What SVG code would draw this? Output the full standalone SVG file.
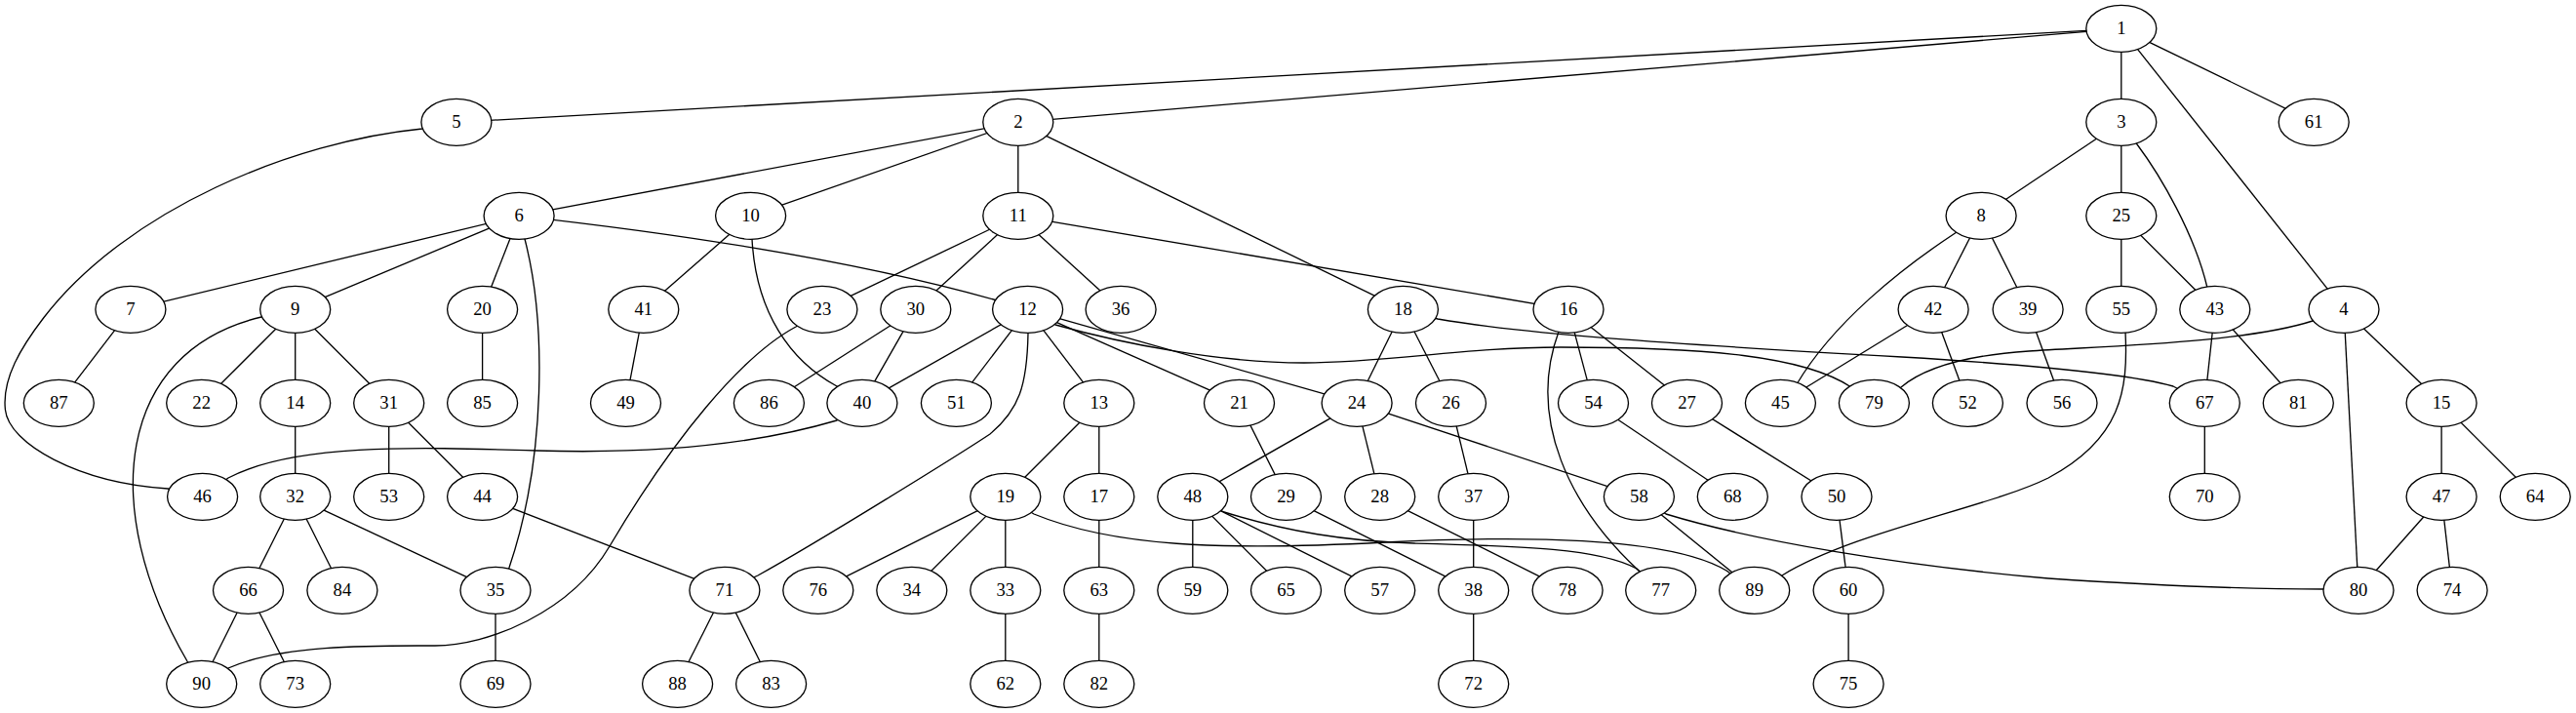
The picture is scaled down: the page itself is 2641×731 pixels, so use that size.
<svg xmlns="http://www.w3.org/2000/svg" width="2641" height="731" viewBox="0 0 2641 731">
<style>
.e path{fill:none;stroke:#000;stroke-width:1.33}
.n ellipse{fill:#fff;stroke:#000;stroke-width:1.33}
.n text{font-family:"Liberation Serif","Times New Roman",serif;font-size:18.67px;text-anchor:middle;fill:#000}
</style>
<rect width="2641" height="731" fill="#fff"/>
<g id="connectors" class="e">
<path d="M2174.8,29.3 L467.9,125.3"/>
<path d="M2174.8,29.3 L1043.8,125.3"/>
<path d="M2174.8,29.3 L2174.8,125.3"/>
<path d="M2174.8,29.3 L2403,317.3"/>
<path d="M2174.8,29.3 L2372.2,125.3"/>
<path d="M1043.8,125.3 L532.1,221.3"/>
<path d="M1043.8,125.3 L769.6,221.3"/>
<path d="M1043.8,125.3 L1043.8,221.3"/>
<path d="M1043.8,125.3 L1438.4,317.3"/>
<path d="M2174.8,125.3 L2031.1,221.3"/>
<path d="M2174.8,125.3 L2174.8,221.3"/>
<path d="M2174.8,125.3 L2191,148 C2215,180 2250,240 2263,295 L2270.8,317.3"/>
<path d="M2403,317.3 L2371,329 C2300,352 2150,355 2080,360 C2020,364 1975,375 1949,397 L1921.4,413.3"/>
<path d="M2403,317.3 L2418,605.3"/>
<path d="M2403,317.3 L2503.1,413.3"/>
<path d="M467.9,125.3 L433,132 C300,145 130,215 44.6,326 C21.6,356 2,388 5.4,420 C9,455 80,495 172,501 L207.6,509.3"/>
<path d="M532.1,221.3 L133.9,317.3"/>
<path d="M532.1,221.3 L302.7,317.3"/>
<path d="M532.1,221.3 L494.6,317.3"/>
<path d="M532.1,221.3 C700,240 900,270 1053.6,317.3"/>
<path d="M532.1,221.3 L538,245 C560,330 560,470 522,582 L508,605.3"/>
<path d="M133.9,317.3 L60.3,413.3"/>
<path d="M2031.1,221.3 L2003,240 C1950,275 1880,330 1842,394 L1825.4,413.3"/>
<path d="M2031.1,221.3 L1982.1,317.3"/>
<path d="M2031.1,221.3 L2079.1,317.3"/>
<path d="M302.7,317.3 L268,325 C120,360 100,520 192,678 L206.7,701.3"/>
<path d="M302.7,317.3 L206.7,413.3"/>
<path d="M302.7,317.3 L302.7,413.3"/>
<path d="M302.7,317.3 L398.7,413.3"/>
<path d="M769.6,221.3 L659.8,317.3"/>
<path d="M769.6,221.3 L771,245 C775,320 810,370 858,396 L883.9,413.3"/>
<path d="M1043.8,221.3 L842.9,317.3"/>
<path d="M1043.8,221.3 L938.8,317.3"/>
<path d="M1043.8,221.3 L1149.1,317.3"/>
<path d="M1043.8,221.3 L1608,317.3"/>
<path d="M1053.6,317.3 L883.9,413.3"/>
<path d="M1053.6,317.3 L980.4,413.3"/>
<path d="M1053.6,317.3 L1126.8,413.3"/>
<path d="M1053.6,317.3 L1270.5,413.3"/>
<path d="M1053.6,317.3 L1391.1,413.3"/>
<path d="M1053.6,317.3 L1082,333 C1150,352 1250,372 1337,372 C1424,372 1500,356 1600,356 C1750,356 1850,365 1898,397 L1921.4,413.3"/>
<path d="M1053.6,317.3 L1054,342 C1053,395 1045,420 1015,445 C985,465 840,555 777,590 L742.9,605.3"/>
<path d="M1126.8,413.3 L1030.8,509.3"/>
<path d="M1126.8,413.3 L1126.8,509.3"/>
<path d="M302.7,413.3 L302.7,509.3"/>
<path d="M2503.1,413.3 L2503.1,509.3"/>
<path d="M2503.1,413.3 L2599.2,509.3"/>
<path d="M1608,317.3 L1633.5,413.3"/>
<path d="M1608,317.3 L1729.5,413.3"/>
<path d="M1608,317.3 L1598,340 C1565,430 1610,520 1680,585 L1702.7,605.3"/>
<path d="M1126.8,509.3 L1126.8,605.3"/>
<path d="M1438.4,317.3 L1391.1,413.3"/>
<path d="M1438.4,317.3 L1487.5,413.3"/>
<path d="M1438.4,317.3 L1474,327 C1560,342 1700,352 1950,366 C2100,375 2190,385 2228,396 L2260.3,413.3"/>
<path d="M1030.8,509.3 L838.8,605.3"/>
<path d="M1030.8,509.3 L934.8,605.3"/>
<path d="M1030.8,509.3 L1030.8,605.3"/>
<path d="M1030.8,509.3 L1060,527 C1140,560 1250,565 1420,556 C1600,547 1720,555 1770,585 L1798.7,605.3"/>
<path d="M494.6,317.3 L494.6,413.3"/>
<path d="M1270.5,413.3 L1318.5,509.3"/>
<path d="M842.9,317.3 L816,335 C760,365 690,450 625,560 C585,628 500,662 446,662 C392,662 290,660 234,685 L206.7,701.3"/>
<path d="M1391.1,413.3 L1222.8,509.3"/>
<path d="M1391.1,413.3 L1414.7,509.3"/>
<path d="M1391.1,413.3 L1680.4,509.3"/>
<path d="M2174.8,221.3 L2174.8,317.3"/>
<path d="M2174.8,221.3 L2270.8,317.3"/>
<path d="M1487.5,413.3 L1510.7,509.3"/>
<path d="M1729.5,413.3 L1883,509.3"/>
<path d="M1414.7,509.3 L1607.1,605.3"/>
<path d="M1318.5,509.3 L1510.7,605.3"/>
<path d="M938.8,317.3 L788.4,413.3"/>
<path d="M938.8,317.3 L883.9,413.3"/>
<path d="M398.7,413.3 L398.7,509.3"/>
<path d="M398.7,413.3 L494.6,509.3"/>
<path d="M302.7,509.3 L254.5,605.3"/>
<path d="M302.7,509.3 L350.9,605.3"/>
<path d="M302.7,509.3 L508,605.3"/>
<path d="M1030.8,605.3 L1030.8,701.3"/>
<path d="M508,605.3 L508,701.3"/>
<path d="M1510.7,509.3 L1510.7,605.3"/>
<path d="M1510.7,605.3 L1510.7,701.3"/>
<path d="M2079.1,317.3 L2114,413.3"/>
<path d="M883.9,413.3 L858,431 C760,460 650,465 550,462 C420,458 300,455 234,490 L207.6,509.3"/>
<path d="M659.8,317.3 L641.5,413.3"/>
<path d="M1982.1,317.3 L1825.4,413.3"/>
<path d="M1982.1,317.3 L2017.4,413.3"/>
<path d="M2270.8,317.3 L2260.3,413.3"/>
<path d="M2270.8,317.3 L2356.3,413.3"/>
<path d="M494.6,509.3 L742.9,605.3"/>
<path d="M2503.1,509.3 L2418,605.3"/>
<path d="M2503.1,509.3 L2514.1,605.3"/>
<path d="M1222.8,509.3 L1222.8,605.3"/>
<path d="M1222.8,509.3 L1318.5,605.3"/>
<path d="M1222.8,509.3 L1414.7,605.3"/>
<path d="M1222.8,509.3 L1255,525 C1320,545 1380,555 1450,557 C1560,560 1640,562 1678,583 L1702.7,605.3"/>
<path d="M1883,509.3 L1895.1,605.3"/>
<path d="M1633.5,413.3 L1776.3,509.3"/>
<path d="M2174.8,317.3 L2179,340 C2182,400 2175,450 2100,490 C2040,520 1900,545 1827,590 L1798.7,605.3"/>
<path d="M1680.4,509.3 L1798.7,605.3"/>
<path d="M1680.4,509.3 L1708,527 C1800,555 1950,580 2100,593 C2250,603 2350,604 2382,604 L2418,605.3"/>
<path d="M1895.1,605.3 L1895.1,701.3"/>
<path d="M1126.8,605.3 L1126.8,701.3"/>
<path d="M254.5,605.3 L206.7,701.3"/>
<path d="M254.5,605.3 L302.7,701.3"/>
<path d="M2260.3,413.3 L2260.3,509.3"/>
<path d="M742.9,605.3 L694.6,701.3"/>
<path d="M742.9,605.3 L790.6,701.3"/>
</g>
<g id="nodes" class="n">
<g id="n1"><ellipse cx="2174.8" cy="29.3" rx="36" ry="24"/><text x="2174.8" y="35.3">1</text></g>
<g id="n2"><ellipse cx="1043.8" cy="125.3" rx="36" ry="24"/><text x="1043.8" y="131.3">2</text></g>
<g id="n3"><ellipse cx="2174.8" cy="125.3" rx="36" ry="24"/><text x="2174.8" y="131.3">3</text></g>
<g id="n4"><ellipse cx="2403" cy="317.3" rx="36" ry="24"/><text x="2403" y="323.3">4</text></g>
<g id="n5"><ellipse cx="467.9" cy="125.3" rx="36" ry="24"/><text x="467.9" y="131.3">5</text></g>
<g id="n6"><ellipse cx="532.1" cy="221.3" rx="36" ry="24"/><text x="532.1" y="227.3">6</text></g>
<g id="n7"><ellipse cx="133.9" cy="317.3" rx="36" ry="24"/><text x="133.9" y="323.3">7</text></g>
<g id="n8"><ellipse cx="2031.1" cy="221.3" rx="36" ry="24"/><text x="2031.1" y="227.3">8</text></g>
<g id="n9"><ellipse cx="302.7" cy="317.3" rx="36" ry="24"/><text x="302.7" y="323.3">9</text></g>
<g id="n10"><ellipse cx="769.6" cy="221.3" rx="36" ry="24"/><text x="769.6" y="227.3">10</text></g>
<g id="n11"><ellipse cx="1043.8" cy="221.3" rx="36" ry="24"/><text x="1043.8" y="227.3">11</text></g>
<g id="n12"><ellipse cx="1053.6" cy="317.3" rx="36" ry="24"/><text x="1053.6" y="323.3">12</text></g>
<g id="n13"><ellipse cx="1126.8" cy="413.3" rx="36" ry="24"/><text x="1126.8" y="419.3">13</text></g>
<g id="n14"><ellipse cx="302.7" cy="413.3" rx="36" ry="24"/><text x="302.7" y="419.3">14</text></g>
<g id="n15"><ellipse cx="2503.1" cy="413.3" rx="36" ry="24"/><text x="2503.1" y="419.3">15</text></g>
<g id="n16"><ellipse cx="1608" cy="317.3" rx="36" ry="24"/><text x="1608" y="323.3">16</text></g>
<g id="n17"><ellipse cx="1126.8" cy="509.3" rx="36" ry="24"/><text x="1126.8" y="515.3">17</text></g>
<g id="n18"><ellipse cx="1438.4" cy="317.3" rx="36" ry="24"/><text x="1438.4" y="323.3">18</text></g>
<g id="n19"><ellipse cx="1030.8" cy="509.3" rx="36" ry="24"/><text x="1030.8" y="515.3">19</text></g>
<g id="n20"><ellipse cx="494.6" cy="317.3" rx="36" ry="24"/><text x="494.6" y="323.3">20</text></g>
<g id="n21"><ellipse cx="1270.5" cy="413.3" rx="36" ry="24"/><text x="1270.5" y="419.3">21</text></g>
<g id="n22"><ellipse cx="206.7" cy="413.3" rx="36" ry="24"/><text x="206.7" y="419.3">22</text></g>
<g id="n23"><ellipse cx="842.9" cy="317.3" rx="36" ry="24"/><text x="842.9" y="323.3">23</text></g>
<g id="n24"><ellipse cx="1391.1" cy="413.3" rx="36" ry="24"/><text x="1391.1" y="419.3">24</text></g>
<g id="n25"><ellipse cx="2174.8" cy="221.3" rx="36" ry="24"/><text x="2174.8" y="227.3">25</text></g>
<g id="n26"><ellipse cx="1487.5" cy="413.3" rx="36" ry="24"/><text x="1487.5" y="419.3">26</text></g>
<g id="n27"><ellipse cx="1729.5" cy="413.3" rx="36" ry="24"/><text x="1729.5" y="419.3">27</text></g>
<g id="n28"><ellipse cx="1414.7" cy="509.3" rx="36" ry="24"/><text x="1414.7" y="515.3">28</text></g>
<g id="n29"><ellipse cx="1318.5" cy="509.3" rx="36" ry="24"/><text x="1318.5" y="515.3">29</text></g>
<g id="n30"><ellipse cx="938.8" cy="317.3" rx="36" ry="24"/><text x="938.8" y="323.3">30</text></g>
<g id="n31"><ellipse cx="398.7" cy="413.3" rx="36" ry="24"/><text x="398.7" y="419.3">31</text></g>
<g id="n32"><ellipse cx="302.7" cy="509.3" rx="36" ry="24"/><text x="302.7" y="515.3">32</text></g>
<g id="n33"><ellipse cx="1030.8" cy="605.3" rx="36" ry="24"/><text x="1030.8" y="611.3">33</text></g>
<g id="n34"><ellipse cx="934.8" cy="605.3" rx="36" ry="24"/><text x="934.8" y="611.3">34</text></g>
<g id="n35"><ellipse cx="508" cy="605.3" rx="36" ry="24"/><text x="508" y="611.3">35</text></g>
<g id="n36"><ellipse cx="1149.1" cy="317.3" rx="36" ry="24"/><text x="1149.1" y="323.3">36</text></g>
<g id="n37"><ellipse cx="1510.7" cy="509.3" rx="36" ry="24"/><text x="1510.7" y="515.3">37</text></g>
<g id="n38"><ellipse cx="1510.7" cy="605.3" rx="36" ry="24"/><text x="1510.7" y="611.3">38</text></g>
<g id="n39"><ellipse cx="2079.1" cy="317.3" rx="36" ry="24"/><text x="2079.1" y="323.3">39</text></g>
<g id="n40"><ellipse cx="883.9" cy="413.3" rx="36" ry="24"/><text x="883.9" y="419.3">40</text></g>
<g id="n41"><ellipse cx="659.8" cy="317.3" rx="36" ry="24"/><text x="659.8" y="323.3">41</text></g>
<g id="n42"><ellipse cx="1982.1" cy="317.3" rx="36" ry="24"/><text x="1982.1" y="323.3">42</text></g>
<g id="n43"><ellipse cx="2270.8" cy="317.3" rx="36" ry="24"/><text x="2270.8" y="323.3">43</text></g>
<g id="n44"><ellipse cx="494.6" cy="509.3" rx="36" ry="24"/><text x="494.6" y="515.3">44</text></g>
<g id="n45"><ellipse cx="1825.4" cy="413.3" rx="36" ry="24"/><text x="1825.4" y="419.3">45</text></g>
<g id="n46"><ellipse cx="207.6" cy="509.3" rx="36" ry="24"/><text x="207.6" y="515.3">46</text></g>
<g id="n47"><ellipse cx="2503.1" cy="509.3" rx="36" ry="24"/><text x="2503.1" y="515.3">47</text></g>
<g id="n48"><ellipse cx="1222.8" cy="509.3" rx="36" ry="24"/><text x="1222.8" y="515.3">48</text></g>
<g id="n49"><ellipse cx="641.5" cy="413.3" rx="36" ry="24"/><text x="641.5" y="419.3">49</text></g>
<g id="n50"><ellipse cx="1883" cy="509.3" rx="36" ry="24"/><text x="1883" y="515.3">50</text></g>
<g id="n51"><ellipse cx="980.4" cy="413.3" rx="36" ry="24"/><text x="980.4" y="419.3">51</text></g>
<g id="n52"><ellipse cx="2017.4" cy="413.3" rx="36" ry="24"/><text x="2017.4" y="419.3">52</text></g>
<g id="n53"><ellipse cx="398.7" cy="509.3" rx="36" ry="24"/><text x="398.7" y="515.3">53</text></g>
<g id="n54"><ellipse cx="1633.5" cy="413.3" rx="36" ry="24"/><text x="1633.5" y="419.3">54</text></g>
<g id="n55"><ellipse cx="2174.8" cy="317.3" rx="36" ry="24"/><text x="2174.8" y="323.3">55</text></g>
<g id="n56"><ellipse cx="2114" cy="413.3" rx="36" ry="24"/><text x="2114" y="419.3">56</text></g>
<g id="n57"><ellipse cx="1414.7" cy="605.3" rx="36" ry="24"/><text x="1414.7" y="611.3">57</text></g>
<g id="n58"><ellipse cx="1680.4" cy="509.3" rx="36" ry="24"/><text x="1680.4" y="515.3">58</text></g>
<g id="n59"><ellipse cx="1222.8" cy="605.3" rx="36" ry="24"/><text x="1222.8" y="611.3">59</text></g>
<g id="n60"><ellipse cx="1895.1" cy="605.3" rx="36" ry="24"/><text x="1895.1" y="611.3">60</text></g>
<g id="n61"><ellipse cx="2372.2" cy="125.3" rx="36" ry="24"/><text x="2372.2" y="131.3">61</text></g>
<g id="n62"><ellipse cx="1030.8" cy="701.3" rx="36" ry="24"/><text x="1030.8" y="707.3">62</text></g>
<g id="n63"><ellipse cx="1126.8" cy="605.3" rx="36" ry="24"/><text x="1126.8" y="611.3">63</text></g>
<g id="n64"><ellipse cx="2599.2" cy="509.3" rx="36" ry="24"/><text x="2599.2" y="515.3">64</text></g>
<g id="n65"><ellipse cx="1318.5" cy="605.3" rx="36" ry="24"/><text x="1318.5" y="611.3">65</text></g>
<g id="n66"><ellipse cx="254.5" cy="605.3" rx="36" ry="24"/><text x="254.5" y="611.3">66</text></g>
<g id="n67"><ellipse cx="2260.3" cy="413.3" rx="36" ry="24"/><text x="2260.3" y="419.3">67</text></g>
<g id="n68"><ellipse cx="1776.3" cy="509.3" rx="36" ry="24"/><text x="1776.3" y="515.3">68</text></g>
<g id="n69"><ellipse cx="508" cy="701.3" rx="36" ry="24"/><text x="508" y="707.3">69</text></g>
<g id="n70"><ellipse cx="2260.3" cy="509.3" rx="36" ry="24"/><text x="2260.3" y="515.3">70</text></g>
<g id="n71"><ellipse cx="742.9" cy="605.3" rx="36" ry="24"/><text x="742.9" y="611.3">71</text></g>
<g id="n72"><ellipse cx="1510.7" cy="701.3" rx="36" ry="24"/><text x="1510.7" y="707.3">72</text></g>
<g id="n73"><ellipse cx="302.7" cy="701.3" rx="36" ry="24"/><text x="302.7" y="707.3">73</text></g>
<g id="n74"><ellipse cx="2514.1" cy="605.3" rx="36" ry="24"/><text x="2514.1" y="611.3">74</text></g>
<g id="n75"><ellipse cx="1895.1" cy="701.3" rx="36" ry="24"/><text x="1895.1" y="707.3">75</text></g>
<g id="n76"><ellipse cx="838.8" cy="605.3" rx="36" ry="24"/><text x="838.8" y="611.3">76</text></g>
<g id="n77"><ellipse cx="1702.7" cy="605.3" rx="36" ry="24"/><text x="1702.7" y="611.3">77</text></g>
<g id="n78"><ellipse cx="1607.1" cy="605.3" rx="36" ry="24"/><text x="1607.1" y="611.3">78</text></g>
<g id="n79"><ellipse cx="1921.4" cy="413.3" rx="36" ry="24"/><text x="1921.4" y="419.3">79</text></g>
<g id="n80"><ellipse cx="2418" cy="605.3" rx="36" ry="24"/><text x="2418" y="611.3">80</text></g>
<g id="n81"><ellipse cx="2356.3" cy="413.3" rx="36" ry="24"/><text x="2356.3" y="419.3">81</text></g>
<g id="n82"><ellipse cx="1126.8" cy="701.3" rx="36" ry="24"/><text x="1126.8" y="707.3">82</text></g>
<g id="n83"><ellipse cx="790.6" cy="701.3" rx="36" ry="24"/><text x="790.6" y="707.3">83</text></g>
<g id="n84"><ellipse cx="350.9" cy="605.3" rx="36" ry="24"/><text x="350.9" y="611.3">84</text></g>
<g id="n85"><ellipse cx="494.6" cy="413.3" rx="36" ry="24"/><text x="494.6" y="419.3">85</text></g>
<g id="n86"><ellipse cx="788.4" cy="413.3" rx="36" ry="24"/><text x="788.4" y="419.3">86</text></g>
<g id="n87"><ellipse cx="60.3" cy="413.3" rx="36" ry="24"/><text x="60.3" y="419.3">87</text></g>
<g id="n88"><ellipse cx="694.6" cy="701.3" rx="36" ry="24"/><text x="694.6" y="707.3">88</text></g>
<g id="n89"><ellipse cx="1798.7" cy="605.3" rx="36" ry="24"/><text x="1798.7" y="611.3">89</text></g>
<g id="n90"><ellipse cx="206.7" cy="701.3" rx="36" ry="24"/><text x="206.7" y="707.3">90</text></g>
</g>
</svg>
